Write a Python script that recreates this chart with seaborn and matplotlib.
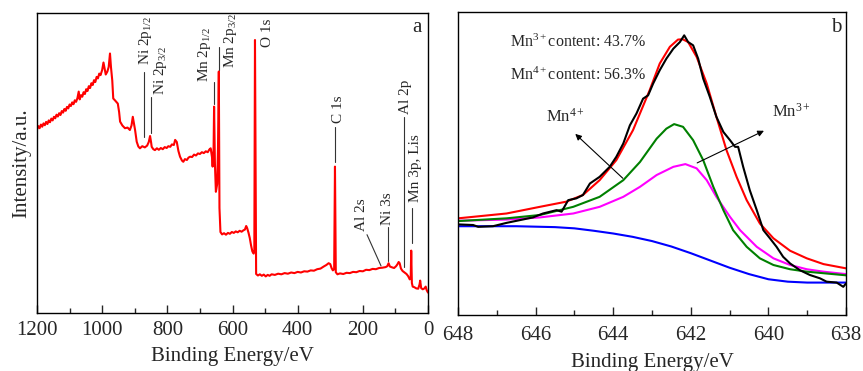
import matplotlib
matplotlib.use("Agg")
import matplotlib.pyplot as plt
import seaborn as sns
import pandas as pd
from matplotlib.ticker import MultipleLocator

# ---------------- data: survey spectrum (panel a) ----------------
survey_be = [1200, 1196, 1192, 1188, 1184, 1180, 1176, 1172, 1168, 1164,
             1160, 1156, 1152, 1148, 1144, 1140, 1136, 1132, 1128, 1124,
             1120, 1116, 1112, 1108, 1104, 1100, 1096, 1092, 1088, 1084,
             1080, 1076, 1072, 1069, 1065, 1061, 1057, 1053, 1049, 1045,
             1041, 1037, 1033, 1029, 1025, 1021, 1017, 1013, 1009, 1005,
             1000, 996, 992, 989, 984, 980, 976, 973, 969, 966,
             960, 952, 948, 945, 938, 930, 922, 915, 910, 906,
             902, 899, 894, 889, 884, 877, 869, 862, 857, 853,
             850, 848, 843, 838, 832, 826, 820, 814, 808, 802,
             797, 791, 786, 780, 776, 771, 766, 761, 755, 751,
             746, 740, 735, 730, 724, 718, 712, 706, 700, 694,
             688, 682, 676, 671, 667, 663, 661, 658, 656.5, 654,
             651, 647, 644.5, 642, 640, 637, 632, 626, 620, 614,
             608, 602, 596, 590, 584, 578, 572, 566, 562, 558,
             555, 551, 547, 543, 539, 535, 533, 531, 527.5, 522,
             516, 510, 504, 498, 492, 486, 480, 470, 460, 450,
             440, 430, 420, 410, 400, 390, 380, 370, 360, 350,
             340, 330, 320, 312, 305, 300, 296, 292, 288, 285.5,
             283, 278, 270, 260, 250, 240, 230, 220, 210, 200,
             190, 180, 170, 160, 150, 140, 130, 125, 121, 117,
             110, 104, 98, 94, 90, 87, 83, 78, 72, 66,
             61, 56, 53, 51.5, 49.5, 47, 42, 36, 30, 26,
             24, 21, 16, 11, 7, 4, 0]
survey_int = [61.2, 62.3, 61.6, 62.8, 62.1, 63.2, 62.6, 63.7, 63.0, 64.2,
              63.6, 64.8, 64.2, 65.4, 64.9, 66.1, 65.5, 66.6, 66.0, 67.3,
              66.8, 68.0, 67.4, 68.7, 68.2, 69.5, 69.0, 70.2, 69.6, 70.9,
              70.4, 71.6, 73.8, 71.2, 72.6, 72.1, 73.6, 73.0, 74.6, 74.0,
              75.6, 75.0, 76.6, 76.0, 77.6, 77.0, 78.7, 78.2, 79.8, 79.3,
              81.0, 83.5, 81.2, 79.5, 80.5, 82.0, 86.5, 82.0, 77.5, 71.5,
              70.8, 69.8, 67.0, 63.8, 62.5, 61.6, 61.8, 61.0, 62.5, 65.4,
              63.0, 61.0, 57.1, 55.5, 54.9, 55.6, 55.2, 55.8, 57.0, 59.0,
              57.0, 55.4, 54.6, 54.3, 54.9, 54.4, 55.0, 54.6, 55.3, 55.0,
              55.6, 55.4, 56.2, 56.0, 57.7, 57.0, 54.0, 52.1, 50.8, 50.4,
              51.3, 51.0, 51.8, 52.1, 52.0, 52.8, 52.5, 53.2, 53.0, 53.6,
              53.3, 53.9, 53.6, 54.5, 54.9, 52.0, 48.8, 55.0, 68.8, 50.0,
              40.4, 43.0, 55.0, 80.5, 35.0, 27.0, 26.2, 26.6, 26.1, 26.7,
              26.4, 27.0, 26.7, 27.2, 26.9, 27.4, 27.1, 27.6, 27.8, 29.0,
              28.3, 26.8, 25.0, 22.5, 20.5, 19.8, 21.0, 91.0, 13.0, 12.5,
              12.9, 12.4, 12.8, 12.2, 12.7, 12.4, 12.9, 12.7, 13.1, 12.9,
              13.3, 13.1, 13.5, 13.3, 13.7, 13.5, 13.9, 13.8, 14.2, 14.1,
              14.6, 14.8, 15.5, 16.0, 16.6, 16.3, 15.0, 14.2, 14.6, 48.8,
              13.6, 12.9, 13.2, 13.0, 13.4, 13.3, 13.7, 13.6, 14.0, 13.9,
              14.4, 14.3, 14.7, 14.6, 15.0, 15.1, 15.3, 15.6, 16.6, 15.5,
              15.2, 15.0, 15.6, 16.2, 17.0, 16.6, 14.8, 14.0, 13.5, 13.0,
              12.3, 11.2, 12.0, 20.8, 10.0, 8.8, 8.6, 8.2, 8.1, 9.5,
              10.8, 8.3, 7.9, 8.2, 8.8, 7.6, 6.8]

# ---------------- data: Mn 2p3/2 fit (panel b) ----------------
raw_be = [648.00, 647.61, 647.48, 647.10, 646.75, 646.41, 646.07, 645.81, 645.46, 645.33,
          645.16, 644.95, 644.78, 644.60, 644.35, 644.09, 643.92, 643.74, 643.57, 643.40,
          643.23, 643.10, 642.97, 642.80, 642.63, 642.45, 642.28, 642.17, 642.07, 641.94,
          641.81, 641.68, 641.51, 641.34, 641.16, 640.99, 640.86, 640.78, 640.65, 640.48,
          640.30, 640.13, 639.96, 639.79, 639.62, 639.44, 639.19, 638.93, 638.67, 638.50,
          638.24, 638.07, 638.00]
raw_int = [29.9, 29.7, 29.1, 29.3, 30.4, 31.3, 32.2, 33.5, 34.6, 34.1,
           37.9, 38.5, 39.6, 43.4, 45.6, 48.9, 52.2, 56.6, 62.6, 66.5,
           71.4, 72.5, 76.4, 80.8, 84.6, 87.9, 90.1, 92.3, 90.1, 89.0,
           84.6, 78.0, 72.0, 65.4, 60.4, 57.7, 55.5, 55.5, 48.9, 41.2,
           34.6, 28.0, 25.3, 22.5, 19.2, 17.0, 14.8, 13.2, 12.1, 11.0,
           10.7, 9.3, 10.4]

env_be = [648.00, 646.75, 645.89, 645.21, 644.78, 644.35, 643.92, 643.49, 643.06, 642.80,
          642.54, 642.33, 642.21, 642.07, 641.85, 641.59, 641.34, 641.08, 640.82, 640.56,
          640.22, 639.87, 639.44, 639.01, 638.58, 638.00]
env_int = [31.9, 33.5, 35.7, 37.4, 39.6, 44.5, 51.1, 61.0, 74.2, 83.0,
           88.5, 90.9, 91.0, 90.1, 85.2, 76.4, 65.4, 54.4, 45.6, 37.9,
           30.2, 25.3, 21.2, 18.7, 16.8, 15.4]

mn4_be = [648.00, 646.75, 645.89, 645.03, 644.35, 643.74, 643.31, 642.88, 642.63, 642.43,
          642.20, 641.94, 641.68, 641.42, 641.16, 640.91, 640.56, 640.22, 639.87, 639.44,
          639.01, 638.00]
mn4_int = [31.0, 31.9, 33.0, 35.7, 39.0, 44.5, 50.5, 58.2, 61.5, 63.0,
           62.1, 57.7, 51.1, 42.3, 34.6, 28.0, 22.5, 18.7, 16.5, 15.1,
           14.3, 13.1]

mn3_be = [648.00, 646.75, 645.89, 645.03, 644.35, 643.74, 643.31, 642.88, 642.45, 642.14,
          641.85, 641.59, 641.34, 640.99, 640.73, 640.30, 639.87, 639.44, 639.01, 638.58,
          638.00]
mn3_int = [31.1, 31.5, 32.2, 33.5, 35.7, 39.0, 42.3, 46.2, 48.9, 49.8,
           48.4, 44.5, 39.0, 32.4, 28.0, 22.5, 18.7, 16.5, 15.1, 14.3,
           13.5]

bg_be = [648.00, 646.5, 645.5, 645.0, 644.5, 644.0, 643.5, 643.0, 642.5, 642.0,
         641.5, 641.0, 640.5, 640.0, 639.5, 639.0, 638.0]
bg_int = [29.3, 29.3, 29.0, 28.6, 27.8, 26.9, 25.8, 24.4, 22.6, 20.4,
          18.0, 15.6, 13.5, 11.8, 11.0, 10.7, 10.7]

# survey peak labels
survey_labels = ["Ni 2p$_{1/2}$", "Ni 2p$_{3/2}$", "Mn 2p$_{1/2}$", "Mn 2p$_{3/2}$", "O 1s",
                 "C 1s", "Al 2s", "Ni 3s", "Al 2p", "Mn 3p, Lis"]
label_x = [867, 822, 687, 607, 494, 274, 203, 123, 70, 39]
label_y = [82.6, 72.6, 77.1, 81.5, 88.7, 63.2, 27.2, 29.4, 66.5, 37.1]
leader_x0 = [872.6, 850.1, 656.8, 642.5, None, 284.4, 144.2, 122.8, 72.7, 49.1]
leader_y0 = [58.8, 59.9, 69.8, 80.9, None, 50.4, 15.7, 17.2, 15.5, 23.3]
leader_x1 = [872.6, 850.1, 656.8, 642.5, None, 284.4, 187.2, 122.8, 72.7, 49.1]
leader_y1 = [80.4, 72.1, 77.1, 88.7, None, 62.1, 26.1, 28.8, 65.4, 34.9]

content_texts = ["Mn$^{3+}$content: 43.7%", "Mn$^{4+}$content: 56.3%"]

# ---------------- style ----------------
sns.set_style("ticks")
plt.rcParams["font.family"] = ["Liberation Serif", "DejaVu Serif"]
plt.rcParams["mathtext.fontset"] = "custom"
plt.rcParams["mathtext.rm"] = "Liberation Serif"
plt.rcParams["mathtext.it"] = "Liberation Serif:italic"
plt.rcParams["mathtext.bf"] = "Liberation Serif:bold"
plt.rcParams["axes.linewidth"] = 1.0

fig = plt.figure(figsize=(8.63, 3.71), dpi=100)
axa = fig.add_axes([37 / 863, 58 / 371, (428 - 37) / 863, (313 - 13) / 371])
axb = fig.add_axes([458 / 863, 56 / 371, (846 - 458) / 863, (315 - 12) / 371])

# panel a
dfa = pd.DataFrame({"be": survey_be, "int": survey_int})
sns.lineplot(data=dfa, x="be", y="int", ax=axa, color="#ff0000", lw=1.5,
             sort=False, estimator=None)
axa.set_xlim(1200, 0)
axa.set_ylim(0, 100)
axa.xaxis.set_major_locator(MultipleLocator(200))
axa.xaxis.set_minor_locator(MultipleLocator(100))

for t, tx, ty, x0, y0, x1, y1 in zip(survey_labels, label_x, label_y, leader_x0,
                                      leader_y0, leader_x1, leader_y1):
    axa.text(tx, ty, t, rotation=90, ha="center", va="bottom", fontsize=11)
    if x0 is not None:
        axa.plot([x0, x1], [y0, y1], color="#333333", lw=0.8)
axa.text(34, 95, "a", ha="center", va="center", fontsize=15)
axa.set_ylabel("Intensity/a.u.", fontsize=15, labelpad=4)

# panel b
for xs, ys, c in [(bg_be, bg_int, "#0000ff"), (mn3_be, mn3_int, "#ff00ff"),
                  (mn4_be, mn4_int, "#008000"), (env_be, env_int, "#ff0000"),
                  (raw_be, raw_int, "#000000")]:
    sns.lineplot(x=xs, y=ys, ax=axb, color=c, lw=1.5, sort=False, estimator=None)
axb.set_xlim(648, 638)
axb.set_ylim(0, 100)
axb.xaxis.set_major_locator(MultipleLocator(2))
axb.xaxis.set_minor_locator(MultipleLocator(1))

axb.text(646.67, 90.1, content_texts[0], ha="left", va="center", fontsize=11.5)
axb.text(646.67, 79.1, content_texts[1], ha="left", va="center", fontsize=11.5)
axb.text(645.74, 65.4, "Mn$^{4+}$", ha="left", va="center", fontsize=12)
axb.text(639.90, 67.0, "Mn$^{3+}$", ha="left", va="center", fontsize=12)
axb.annotate("", xy=(645.03, 60.4), xytext=(643.70, 44.5),
             arrowprops=dict(arrowstyle="-|>", color="black", lw=0.8, mutation_scale=9))
axb.annotate("", xy=(640.05, 61.2), xytext=(641.90, 49.8),
             arrowprops=dict(arrowstyle="-|>", color="black", lw=0.8, mutation_scale=9))
axb.text(638.26, 95, "b", ha="center", va="center", fontsize=15)
axb.set_ylabel("")

for ax, tpad, lpad in ((axa, 6, 4.5), (axb, 8, 6)):
    ax.set_xlabel("Binding Energy/eV", fontsize=15, labelpad=lpad)
    ax.set_yticks([])
    ax.tick_params(axis="x", which="major", direction="in", length=6, width=1,
                   labelsize=15, pad=tpad, top=False)
    ax.tick_params(axis="x", which="minor", direction="in", length=3.5, width=1, top=False)
    for s in ax.spines.values():
        s.set_visible(True)
        s.set_color("black")
        s.set_linewidth(1.0)

fig.savefig("out.png", dpi=100)
